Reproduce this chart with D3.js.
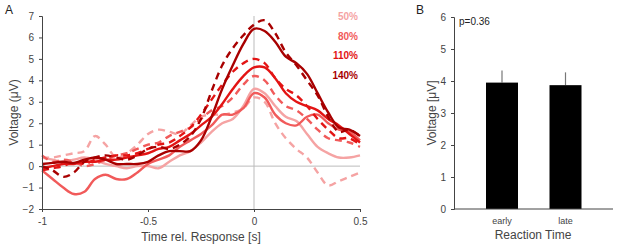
<!DOCTYPE html>
<html>
<head>
<meta charset="utf-8">
<script src="https://cdn.jsdelivr.net/npm/d3@7"></script>
<style>
  body { margin: 0; background: #fff; }
  svg { font-family: "Liberation Sans", Arial, sans-serif; }
</style>
</head>
<body>
<svg id="chart" width="617" height="246"></svg>
<script>
// time grid (s) for panel A
const times = d3.range(31).map(i => -1 + i * 0.05);

const conditions = ["50%", "80%", "110%", "140%"];
const condColors = ["#f5a3a3", "#f15a5a", "#e31414", "#a80000"];

// solid = one RT group, dashed = other
const v50solid  = [0.4, 0.3, 0.2, 0.3, 0.4, 0.3, 0.1, 0.0, -0.1, 0.0, 0.0, -0.1, 0.2, 0.5, 0.7, 1.1, 1.6, 2.0, 2.2, 2.8, 3.6, 3.4, 2.8, 2.3, 2.1, 1.5, 0.9, 0.6, 0.4, 0.4, 0.5];
const v50dash   = [0.4, 0.4, 0.5, 0.6, 0.7, 1.4, 1.0, 0.4, 0.6, 1.0, 1.5, 1.7, 1.6, 1.5, 1.9, 2.3, 2.4, 2.4, 2.5, 2.7, 3.2, 3.0, 2.0, 1.3, 0.8, 0.4, -0.3, -0.9, -0.7, -0.5, -0.3];
const v80solid  = [-0.2, -0.6, -1.0, -1.3, -1.2, -0.6, -0.4, -0.6, -0.6, -0.3, 0.1, 0.3, 0.5, 0.9, 1.2, 1.5, 1.9, 2.4, 2.4, 2.7, 3.4, 3.2, 2.4, 2.0, 1.9, 2.3, 2.4, 2.0, 1.7, 1.6, 1.2];
const v80dash   = [0.5, 0.2, 0.3, 0.2, 0.0, 0.1, 0.3, 0.5, 0.6, 0.8, 1.0, 1.1, 1.4, 1.6, 1.8, 2.2, 2.6, 2.8, 3.2, 3.8, 4.2, 4.0, 3.3, 2.8, 2.6, 2.2, 1.7, 1.3, 1.2, 1.1, 0.9];
const v110solid = [-0.1, 0.0, 0.1, 0.1, 0.2, 0.2, 0.3, 0.3, 0.4, 0.5, 0.6, 0.8, 0.9, 1.2, 1.5, 1.9, 2.3, 2.9, 3.6, 4.2, 4.6, 4.6, 4.1, 3.4, 3.0, 2.8, 2.6, 2.2, 1.9, 1.5, 1.1];
const v110dash  = [-0.2, -0.1, 0.0, 0.2, 0.1, 0.3, 0.4, 0.5, 0.5, 0.6, 0.8, 1.0, 1.1, 1.4, 1.8, 2.4, 3.1, 3.8, 4.4, 4.8, 5.0, 4.8, 4.1, 3.6, 3.3, 2.8, 2.2, 1.7, 1.3, 1.3, 1.0];
const v140solid = [0.1, 0.15, 0.2, 0.15, 0.3, 0.4, 0.3, 0.1, 0.1, 0.1, 0.2, 0.5, 0.7, 0.7, 0.7, 1.2, 2.3, 3.6, 4.7, 5.7, 6.4, 6.3, 5.8, 5.1, 4.8, 4.3, 3.4, 2.5, 1.8, 1.7, 1.4];
const v140dash  = [0.0, -0.2, -0.5, -0.3, 0.2, 0.4, 0.5, 0.4, 0.3, 0.5, 0.8, 0.9, 0.8, 1.0, 1.4, 2.2, 3.5, 4.7, 5.5, 6.1, 6.6, 6.8, 6.2, 5.3, 4.7, 4.0, 3.3, 2.3, 1.6, 1.7, 1.4];

const seriesA = [
  { cond: 0, dashed: false, values: v50solid },
  { cond: 0, dashed: true,  values: v50dash },
  { cond: 1, dashed: false, values: v80solid },
  { cond: 1, dashed: true,  values: v80dash },
  { cond: 2, dashed: false, values: v110solid },
  { cond: 2, dashed: true,  values: v110dash },
  { cond: 3, dashed: false, values: v140solid },
  { cond: 3, dashed: true,  values: v140dash }
];

// panel B
const rtGroups = ["early", "late"];
const rtMeans = [3.95, 3.87];
const rtErrors = [0.38, 0.40];

const svg = d3.select("#chart");
const axisColor = "#444";
const textColor = "#444";

// ---------- Panel A ----------
const xA = d3.scaleLinear().domain([-1, 0.5]).range([42, 360]);
const yA = d3.scaleLinear().domain([-2, 7]).range([209, 16]);

const gA = svg.append("g");

gA.append("line")
  .attr("x1", xA(-1)).attr("x2", xA(0.5))
  .attr("y1", yA(0)).attr("y2", yA(0))
  .attr("stroke", "#bbb").attr("stroke-width", 1);
gA.append("line")
  .attr("x1", xA(0)).attr("x2", xA(0))
  .attr("y1", yA(7)).attr("y2", yA(-2))
  .attr("stroke", "#bbb").attr("stroke-width", 1);

const line = d3.line()
  .x((d, i) => xA(times[i]))
  .y(d => yA(d))
  .curve(d3.curveCatmullRom.alpha(0.5));

gA.selectAll("path.trace")
  .data(seriesA)
  .join("path")
  .attr("class", "trace")
  .attr("d", d => line(d.values))
  .attr("fill", "none")
  .attr("stroke", d => condColors[d.cond])
  .attr("stroke-width", 2.4)
  .attr("stroke-dasharray", d => d.dashed ? "7,5" : null);

const xAxisA = gA.append("g")
  .attr("transform", `translate(0,${yA(-2)})`)
  .call(d3.axisBottom(xA).tickValues([-1, -0.5, 0, 0.5]).tickFormat(d3.format("")).tickSize(3).tickPadding(6));
const yAxisA = gA.append("g")
  .attr("transform", `translate(${xA(-1)},0)`)
  .call(d3.axisLeft(yA).tickValues(d3.range(-2, 8)).tickSize(3).tickPadding(5));

[xAxisA, yAxisA].forEach(ax => {
  ax.select(".domain").attr("stroke", axisColor);
  ax.selectAll(".tick line").attr("stroke", axisColor);
  ax.selectAll(".tick text").attr("fill", textColor).style("font-size", "10px");
});
xAxisA.selectAll(".tick text").text(d => d === 0 ? "0" : String(d));

gA.append("text")
  .attr("x", 201).attr("y", 241)
  .attr("text-anchor", "middle")
  .attr("fill", textColor)
  .style("font-size", "12px")
  .text("Time rel. Response [s]");

gA.append("text")
  .attr("transform", `translate(18,${(yA(7) + yA(-2)) / 2}) rotate(-90)`)
  .attr("text-anchor", "middle")
  .attr("fill", textColor)
  .style("font-size", "12px")
  .text("Voltage (\u03bcV)");

gA.append("text")
  .attr("x", 5).attr("y", 14)
  .attr("fill", "#222")
  .style("font-size", "12px")
  .text("A");

gA.selectAll("text.legend")
  .data(conditions)
  .join("text")
  .attr("class", "legend")
  .attr("x", 358)
  .attr("y", (d, i) => 20 + i * 19.5)
  .attr("text-anchor", "end")
  .attr("fill", (d, i) => condColors[i])
  .style("font-size", "10px")
  .style("font-weight", "bold")
  .text(d => d);

// ---------- Panel B ----------
const xB = d3.scaleBand().domain(rtGroups).range([454, 613]).paddingInner(0.95).paddingOuter(0.98);
const yB = d3.scaleLinear().domain([0, 6]).range([209, 17]);

const bandX = d3.scalePoint().domain(rtGroups).range([502, 565.5]);
const barW = 32;

const gB = svg.append("g");

gB.selectAll("line.err")
  .data(rtGroups)
  .join("line")
  .attr("class", "err")
  .attr("x1", d => bandX(d)).attr("x2", d => bandX(d))
  .attr("y1", (d, i) => yB(rtMeans[i]))
  .attr("y2", (d, i) => yB(rtMeans[i] + rtErrors[i]))
  .attr("stroke", "#777").attr("stroke-width", 1.2);

gB.selectAll("rect.bar")
  .data(rtGroups)
  .join("rect")
  .attr("class", "bar")
  .attr("x", d => bandX(d) - barW / 2)
  .attr("width", barW)
  .attr("y", (d, i) => yB(rtMeans[i]))
  .attr("height", (d, i) => yB(0) - yB(rtMeans[i]))
  .attr("fill", "#000");

const yAxisB = gB.append("g")
  .attr("transform", "translate(454,0)")
  .call(d3.axisLeft(yB).ticks(6).tickSize(3).tickPadding(5));
yAxisB.select(".domain").attr("stroke", axisColor);
yAxisB.selectAll(".tick line").attr("stroke", axisColor);
yAxisB.selectAll(".tick text").attr("fill", textColor).style("font-size", "10px");

gB.append("line")
  .attr("x1", 454).attr("x2", 613)
  .attr("y1", yB(0)).attr("y2", yB(0))
  .attr("stroke", axisColor);

gB.selectAll("text.cat")
  .data(rtGroups)
  .join("text")
  .attr("class", "cat")
  .attr("x", d => bandX(d))
  .attr("y", 224)
  .attr("text-anchor", "middle")
  .attr("fill", textColor)
  .style("font-size", "9px")
  .text(d => d);

gB.append("text")
  .attr("x", 533).attr("y", 239)
  .attr("text-anchor", "middle")
  .attr("fill", textColor)
  .style("font-size", "12px")
  .text("Reaction Time");

gB.append("text")
  .attr("transform", `translate(436,${(yB(0) + yB(6)) / 2}) rotate(-90)`)
  .attr("text-anchor", "middle")
  .attr("fill", textColor)
  .style("font-size", "12px")
  .text("Voltage [\u03bcV]");

gB.append("text")
  .attr("x", 459).attr("y", 25)
  .attr("fill", "#222")
  .style("font-size", "10px")
  .text("p=0.36");

gB.append("text")
  .attr("x", 416).attr("y", 14)
  .attr("fill", "#222")
  .style("font-size", "12px")
  .text("B");
</script>
</body>
</html>
